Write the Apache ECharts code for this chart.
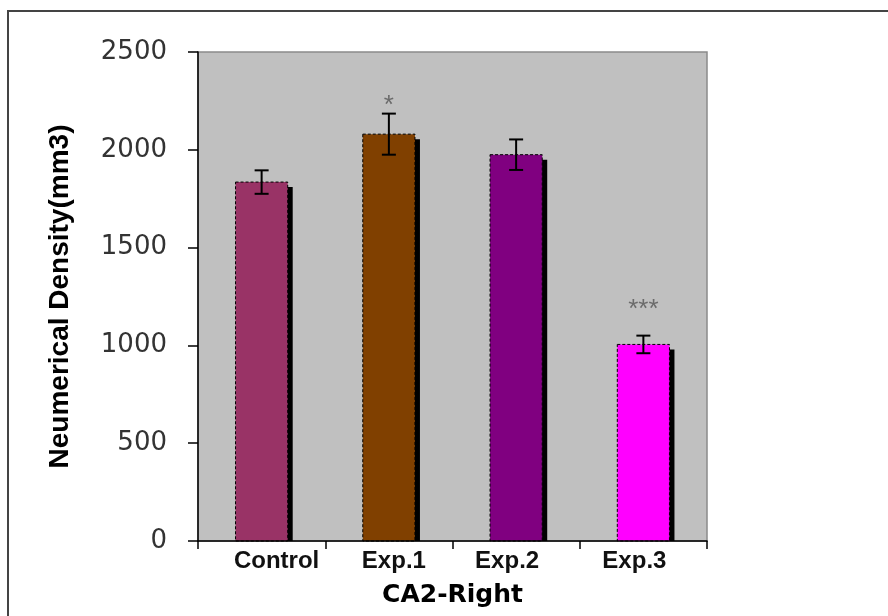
<!DOCTYPE html>
<html>
<head>
<meta charset="utf-8">
<script src="https://cdn.jsdelivr.net/npm/echarts@6/dist/echarts.min.js"></script>
<style>html,body{margin:0;padding:0;background:#fff;}#chart{width:888px;height:616px;}</style>
</head>
<body>
<div id="chart"></div>
<script>
// ---- data ----
const categories = ['Control', 'Exp.1', 'Exp.2', 'Exp.3'];
const means = [1835, 2080, 1975, 1005];
const errors = [60, 105, 78, 45];
const barColors = ['#993366', '#804000', '#800080', '#ff00ff'];
const sigText = ['', '*', '', '***'];
const sigY = [null, 2225, null, 1180];
const yMin = 0, yMax = 2500, yStep = 500;
const yTitle = 'Neumerical Density(mm3)';
const xTitle = 'CA2-Right';

// ---- layout / style ----
const labelShift = [15, 5, -9, -9];
const catFont = { color: '#111', fontFamily: 'Liberation Sans', fontWeight: 'bold', fontSize: 24 };
const barFrac = 0.41;
const shadowOff = 5;

const chart = echarts.init(document.getElementById('chart'));

const catData = categories.map((c, i) => {
  const d = labelShift[i];
  return {
    value: c,
    textStyle: Object.assign({}, catFont, { padding: d >= 0 ? [0, 0, 0, 2 * d] : [0, -2 * d, 0, 0] })
  };
});

const option = {
  animation: false,
  backgroundColor: '#fff',
  graphic: [{
    type: 'rect', z: -10, silent: true,
    shape: { x: 8, y: 11, width: 920, height: 700 },
    style: { fill: 'none', stroke: '#444', lineWidth: 2 }
  }],
  grid: {
    left: 198, top: 52, width: 509, height: 489,
    show: true, backgroundColor: '#c0c0c0', borderColor: '#8a8a8a', borderWidth: 1.5
  },
  xAxis: {
    type: 'category',
    data: catData,
    boundaryGap: true,
    z: 10,
    axisLine: { lineStyle: { color: '#000', width: 1.5 } },
    axisTick: { show: true, length: 8, interval: 0, lineStyle: { color: '#000', width: 1.5 } },
    axisLabel: Object.assign({ interval: 0, margin: 8 }, catFont),
    name: xTitle, nameLocation: 'middle', nameGap: 42,
    nameTextStyle: { color: '#000', fontFamily: 'DejaVu Sans', fontWeight: 'bold', fontSize: 25 }
  },
  yAxis: {
    type: 'value', min: yMin, max: yMax, interval: yStep,
    splitLine: { show: false },
    z: 10,
    axisLine: { show: true, lineStyle: { color: '#000', width: 1.5 } },
    axisTick: { show: true, length: 10, lineStyle: { color: '#000', width: 1.5 } },
    axisLabel: { margin: 31, color: '#333', fontFamily: 'DejaVu Sans', fontSize: 26, formatter: v => String(v) },
    name: yTitle, nameLocation: 'middle', nameGap: 124, nameRotate: 90,
    nameTextStyle: { color: '#000', fontFamily: 'Liberation Sans', fontWeight: 'bold', fontSize: 28 }
  },
  series: [
    {
      type: 'custom',
      z: 2,
      data: means.map((v, i) => [i, v]),
      renderItem: function (params, api) {
        const i = api.value(0);
        const top = api.coord([i, api.value(1)]);
        const base = api.coord([i, 0]);
        const w = api.size([1, 0])[0] * barFrac;
        const x0 = top[0] - w / 2;
        const h = base[1] - top[1];
        return {
          type: 'group',
          children: [
            { type: 'rect', shape: { x: x0 + shadowOff, y: top[1] + shadowOff, width: w, height: h - shadowOff },
              style: { fill: '#000' } },
            { type: 'rect', shape: { x: x0, y: top[1], width: w, height: h },
              style: { fill: barColors[params.dataIndex], stroke: '#000', lineWidth: 1, lineDash: [3, 2] } }
          ]
        };
      }
    },
    {
      type: 'custom',
      z: 5,
      data: means.map((v, i) => [i, v - errors[i], v + errors[i]]),
      renderItem: function (params, api) {
        const x = api.value(0);
        const lo = api.coord([x, api.value(1)]);
        const hi = api.coord([x, api.value(2)]);
        const hw = 7;
        const st = { stroke: '#000', lineWidth: 2 };
        return {
          type: 'group',
          children: [
            { type: 'line', shape: { x1: lo[0], y1: lo[1], x2: hi[0], y2: hi[1] }, style: st },
            { type: 'line', shape: { x1: lo[0] - hw, y1: lo[1], x2: lo[0] + hw, y2: lo[1] }, style: st },
            { type: 'line', shape: { x1: hi[0] - hw, y1: hi[1], x2: hi[0] + hw, y2: hi[1] }, style: st }
          ]
        };
      }
    },
    {
      type: 'scatter',
      symbolSize: 0,
      z: 6,
      data: sigY.map((y, i) => [i, y]),
      label: {
        show: true, position: 'inside',
        formatter: p => sigText[p.dataIndex],
        color: '#555', fontFamily: 'Liberation Sans', fontSize: 26
      }
    }
  ]
};
chart.setOption(option);
</script>
</body>
</html>
